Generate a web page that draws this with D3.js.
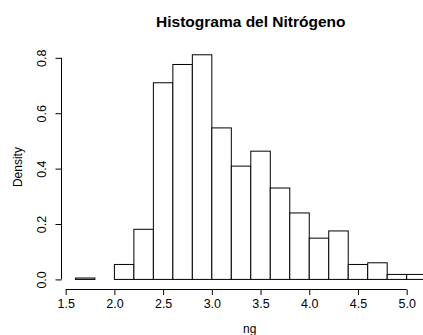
<!DOCTYPE html>
<html>
<head>
<meta charset="utf-8">
<script src="https://cdn.jsdelivr.net/npm/d3@7"></script>
<style>
  html, body { margin: 0; padding: 0; background: #fff; }
  svg { display: block; }
  text { font-family: "Liberation Sans", Arial, sans-serif; fill: #000; }
</style>
</head>
<body>
<svg id="chart" width="423" height="335"></svg>
<script>
// ---- data ----
const breaks = [1.6, 1.8, 2.0, 2.2, 2.4, 2.6, 2.8, 3.0, 3.2, 3.4, 3.6, 3.8, 4.0, 4.2, 4.4, 4.6, 4.8, 5.0, 5.2];
const density = [0.005, 0.0, 0.054, 0.181, 0.710, 0.776, 0.811, 0.547, 0.409, 0.463, 0.330, 0.240, 0.149, 0.175, 0.054, 0.060, 0.018, 0.018];
const xTicks = [1.5, 2.0, 2.5, 3.0, 3.5, 4.0, 4.5, 5.0];
const yTicks = [0.0, 0.2, 0.4, 0.6, 0.8];
const title = "Histograma del Nitrógeno";
const xLabel = "ng";
const yLabel = "Density";

// ---- layout ----
const svg = d3.select("#chart");
const plot = { left: 61.4, right: 440.2, top: 45.8, bottom: 288.4 };

const xMin = breaks[0], xMax = breaks[breaks.length - 1];
const xPad = (xMax - xMin) * 0.04;
const yMax = d3.max(density);
const yPad = yMax * 0.04;

const x = d3.scaleLinear().domain([xMin - xPad, xMax + xPad]).range([plot.left, plot.right]);
const y = d3.scaleLinear().domain([-yPad, yMax + yPad]).range([plot.bottom, plot.top]);

const bins = density.map((d, i) => ({ x0: breaks[i], x1: breaks[i + 1], d }));

// bars
svg.append("g")
  .selectAll("rect")
  .data(bins)
  .join("rect")
  .attr("x", b => x(b.x0))
  .attr("y", b => y(b.d))
  .attr("width", b => x(b.x1) - x(b.x0))
  .attr("height", b => y(0) - y(b.d))
  .attr("fill", "#fff")
  .attr("stroke", "#000")
  .attr("stroke-width", 1);

// x axis
const xAxisY = 289.5;
const gx = svg.append("g")
  .attr("transform", `translate(0,${xAxisY})`)
  .call(d3.axisBottom(x).tickValues(xTicks).tickFormat(d3.format(".1f")).tickSize(5.5).tickSizeOuter(0));
gx.select(".domain").remove();
gx.append("line")
  .attr("x1", x(xTicks[0])).attr("x2", x(xTicks[xTicks.length - 1]))
  .attr("y1", 0).attr("y2", 0)
  .attr("stroke", "#000");
gx.selectAll(".tick line").attr("stroke", "#000");
gx.selectAll(".tick text")
  .attr("y", 18.5).attr("dy", null)
  .style("font-size", "12.5px")
  .style("font-family", "'Liberation Sans', Arial, sans-serif")
  .attr("fill", "#000");

// y axis
const yAxisX = 61.5;
const gy = svg.append("g")
  .attr("transform", `translate(${yAxisX},0)`)
  .call(d3.axisLeft(y).tickValues(yTicks).tickFormat(d3.format(".1f")).tickSize(6).tickSizeOuter(0));
gy.select(".domain").remove();
gy.append("line")
  .attr("x1", 0).attr("x2", 0)
  .attr("y1", y(yTicks[0])).attr("y2", y(yTicks[yTicks.length - 1]))
  .attr("stroke", "#000");
gy.selectAll(".tick line").attr("stroke", "#000");
gy.selectAll(".tick text")
  .attr("x", null).attr("dy", null)
  .attr("text-anchor", "middle")
  .attr("transform", "translate(-15.5,0) rotate(-90)")
  .style("font-size", "12.5px")
  .style("font-family", "'Liberation Sans', Arial, sans-serif")
  .attr("fill", "#000");

// title
svg.append("text")
  .attr("x", (plot.left + plot.right) / 2)
  .attr("y", 27)
  .attr("text-anchor", "middle")
  .style("font-size", "15.5px")
  .style("font-weight", "bold")
  .text(title);

// axis labels
svg.append("text")
  .attr("x", (plot.left + plot.right) / 2 - 1)
  .attr("y", 332.5)
  .attr("text-anchor", "middle")
  .style("font-size", "12px")
  .text(xLabel);

svg.append("text")
  .attr("transform", `translate(22,${(plot.top + plot.bottom) / 2}) rotate(-90)`)
  .attr("text-anchor", "middle")
  .style("font-size", "12px")
  .text(yLabel);
</script>
</body>
</html>
